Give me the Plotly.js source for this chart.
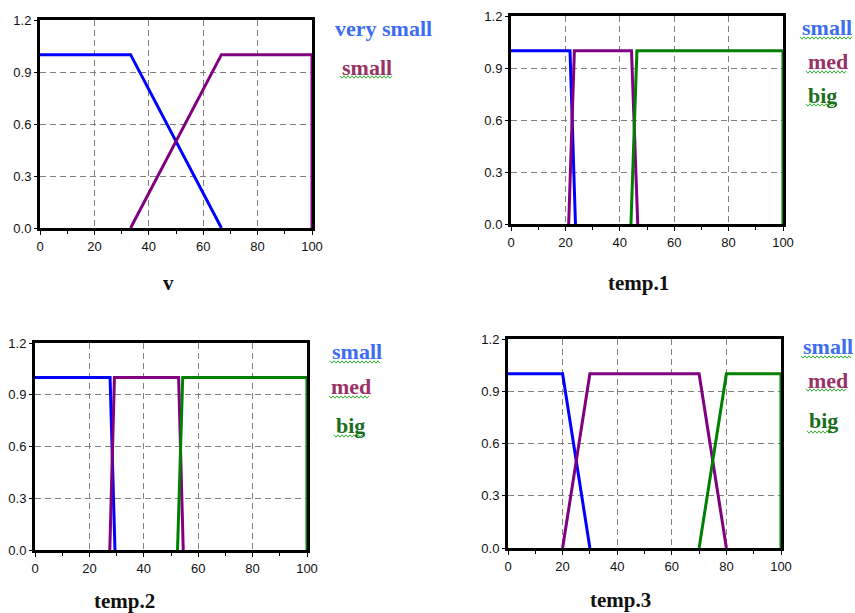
<!DOCTYPE html>
<html>
<head>
<meta charset="utf-8">
<script src="https://cdn.plot.ly/plotly-3.0.1.min.js"></script>
<style>html,body{margin:0;padding:0;background:#fff;}#chart{width:855px;height:613px;}</style>
</head>
<body>
<div id="chart"></div>
<script>
// ---- data ----
// panel "v"
const vVerySmallX = [0, 33.3, 66.7];
const vVerySmallY = [1, 1, 0];
const vSmallX = [33.3, 66.7, 100, 100];
const vSmallY = [0, 1, 1, 0];
// panel "temp.1"
const t1SmallX = [0, 21.7, 23.7];
const t1SmallY = [1, 1, 0];
const t1MedX = [21.2, 23.3, 44.3, 46.6];
const t1MedY = [0, 1, 1, 0];
const t1BigX = [44.1, 46.3, 100, 100];
const t1BigY = [0, 1, 1, 0];
// panel "temp.2"
const t2SmallX = [0, 27.6, 29.4];
const t2SmallY = [1, 1, 0];
const t2MedX = [27.5, 29.2, 52.8, 54.5];
const t2MedY = [0, 1, 1, 0];
const t2BigX = [52.4, 54.3, 100, 100];
const t2BigY = [0, 1, 1, 0];
// panel "temp.3"
const t3SmallX = [0, 20, 30];
const t3SmallY = [1, 1, 0];
const t3MedX = [20, 30, 70, 80];
const t3MedY = [0, 1, 1, 0];
const t3BigX = [70, 80, 100, 100];
const t3BigY = [0, 1, 1, 0];

const panelTitles = ["v", "temp.1", "temp.2", "temp.3"];
const xTickVals = [0, 20, 40, 60, 80, 100];
const yTickVals = [0, 0.3, 0.6, 0.9, 1.2];

// ---- styling ----
const W = 855, H = 613;
const BLUE = '#0000ff', PURPLE = '#800080', GREEN = '#008000';
const LBLUE = '#3d6df2', LPURPLE = '#993366', LGREEN = '#1b6e1b';
const SERIF = 'Liberation Serif, Times New Roman, serif';

function px(x){ return x / W; }
function py(y){ return 1 - y / H; }

// plot areas in pixels [left, right, top, bottom]
const areas = [
  [40, 312, 20, 228],
  [511, 783, 16, 224],
  [35, 307, 343, 550],
  [508, 781, 339, 548]
];

function tr(x, y, color, i){
  const s = i === 0 ? '' : String(i + 1);
  return {x: x, y: y, type: 'scatter', mode: 'lines', xaxis: 'x' + s, yaxis: 'y' + s,
    line: {color: color, width: 3}, showlegend: false, hoverinfo: 'skip'};
}

const data = [
  tr(vVerySmallX, vVerySmallY, BLUE, 0),
  tr(vSmallX, vSmallY, PURPLE, 0),
  tr(t1SmallX, t1SmallY, BLUE, 1),
  tr(t1MedX, t1MedY, PURPLE, 1),
  tr(t1BigX, t1BigY, GREEN, 1),
  tr(t2SmallX, t2SmallY, BLUE, 2),
  tr(t2MedX, t2MedY, PURPLE, 2),
  tr(t2BigX, t2BigY, GREEN, 2),
  tr(t3SmallX, t3SmallY, BLUE, 3),
  tr(t3MedX, t3MedY, PURPLE, 3),
  tr(t3BigX, t3BigY, GREEN, 3)
];

const layout = {
  width: W, height: H,
  margin: {l: 0, r: 0, t: 0, b: 0},
  paper_bgcolor: '#fff', plot_bgcolor: '#fff',
  showlegend: false,
  annotations: [], shapes: []
};

const tickFont = {family: 'Liberation Sans, Arial, sans-serif', size: 13, color: '#111'};

areas.forEach((a, i) => {
  const s = i === 0 ? '' : String(i + 1);
  layout['xaxis' + s] = {
    domain: [px(a[0]), px(a[1])], anchor: 'y' + s,
    range: [0, 100], tickvals: xTickVals, ticktext: xTickVals.map(String),
    ticks: 'outside', ticklen: 4, tickwidth: 1, tickcolor: '#000',
    minor: {dtick: 10, tick0: 0, ticks: 'outside', ticklen: 3, tickcolor: '#000', showgrid: false},
    showline: true, linecolor: '#000', linewidth: 3, mirror: true,
    showgrid: true, gridcolor: '#808080', griddash: '6px,4px', gridwidth: 1,
    zeroline: false, tickfont: tickFont, fixedrange: true
  };
  layout['yaxis' + s] = {
    domain: [py(a[3]), py(a[2])], anchor: 'x' + s,
    range: [0, 1.2], tickvals: yTickVals, ticktext: yTickVals.map(v => v.toFixed(1)),
    ticks: 'outside', ticklen: 3, tickwidth: 1, tickcolor: '#000',
    showline: true, linecolor: '#000', linewidth: 3, mirror: true,
    showgrid: true, gridcolor: '#808080', griddash: '6px,4px', gridwidth: 1,
    zeroline: false, tickfont: tickFont, fixedrange: true
  };
});

// panel titles (axis titles under each plot)
const titlePos = [[168, 283], [638, 283], [124, 601], [620, 600]];
panelTitles.forEach((t, i) => {
  layout.annotations.push({
    text: '<b>' + t + '</b>', xref: 'paper', yref: 'paper',
    x: px(titlePos[i][0]), y: py(titlePos[i][1]), xanchor: 'center', yanchor: 'middle',
    showarrow: false, font: {family: SERIF, size: 21, color: '#111'}
  });
});

// series labels to the right of each panel: [text, color, left x px, center y px, squiggle y px or null, squiggle right x]
const labels = [
  ['very small', LBLUE, 333, 28, null, 0],
  ['small', LPURPLE, 340, 67, 77, 392],
  ['small', LBLUE, 800, 27, 38, 852],
  ['med', LPURPLE, 806, 62, 72, 847],
  ['big', LGREEN, 806, 96, 105, 835],
  ['small', LBLUE, 330, 351, 362, 381],
  ['med', LPURPLE, 329, 386, 397, 370],
  ['big', LGREEN, 334, 425, 436, 363],
  ['small', LBLUE, 801, 346, 357, 852],
  ['med', LPURPLE, 806, 380, 390, 847],
  ['big', LGREEN, 807, 420, 432, 835]
];
labels.forEach(l => {
  layout.annotations.push({
    text: '<b>' + l[0] + '</b>', xref: 'paper', yref: 'paper',
    x: px(l[2]), y: py(l[3]), xanchor: 'left', yanchor: 'middle',
    showarrow: false, font: {family: SERIF, size: 22, color: l[1]}
  });
  if (l[4] !== null) {
    // spell-check style wavy underline
    let d = '';
    let k = 0;
    for (let x = l[2]; x <= l[5]; x += 2, k++) {
      const y = l[4] + (k % 2 === 0 ? -1.2 : 1.2);
      d += (k === 0 ? 'M' : 'L') + px(x).toFixed(5) + ',' + py(y).toFixed(5) + ' ';
    }
    layout.shapes.push({type: 'path', xref: 'paper', yref: 'paper', path: d,
      line: {color: '#33b033', width: 1}});
  }
});

Plotly.newPlot('chart', data, layout, {staticPlot: true, displayModeBar: false});
</script>
</body>
</html>
